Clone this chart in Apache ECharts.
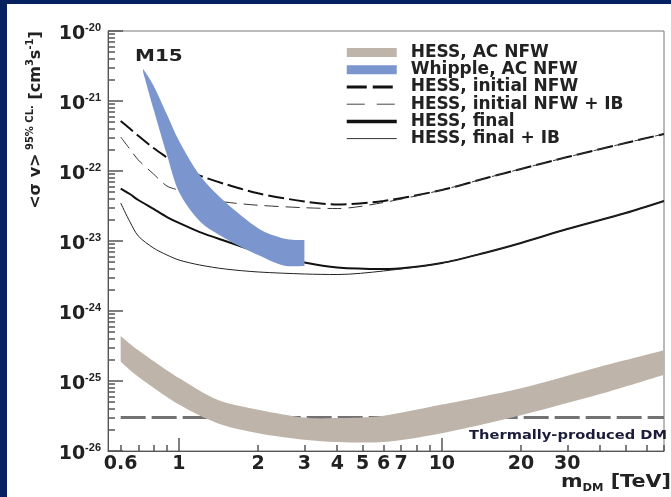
<!DOCTYPE html>
<html><head><meta charset="utf-8">
<script src="https://cdn.jsdelivr.net/npm/echarts@6/dist/echarts.min.js"></script>
<style>
html,body{margin:0;padding:0;background:#06215f;width:671px;height:497px;overflow:hidden}
#chart{position:absolute;left:7px;top:4px;width:664px;height:493px;background:#fff}
</style></head><body><div id="chart"></div>
<script>
// ---- axes ----
const xMinTeV = 0.537, xMaxTeV = 70;
const yMinExp = -26, yMaxExp = -20;
const xTickValues = [0.6, 1, 2, 3, 4, 5, 6, 7, 10, 20, 30];
const xTickLabels = ['0.6', '1', '2', '3', '4', '5', '6', '7', '10', '20', '30'];
const xMajorTicks = [1, 10];
const xMinorTicks = [0.6, 0.7, 0.8, 0.9, 2, 3, 4, 5, 6, 7, 8, 9, 20, 30, 40, 50, 60, 70];
const yDecades = [-26, -25, -24, -23, -22, -21, -20];
const yTickLabels = ['-26', '-25', '-24', '-23', '-22', '-21', '-20'];
const yMinorMultipliers = [2, 3, 4, 5, 6, 7, 8, 9];

// ---- data (m_DM in TeV, <sigma v> in cm^3 s^-1) ----
const hessAcMass  = [0.6, 0.7, 1, 1.4, 2, 3, 4, 6, 10, 20, 40, 70];
const hessAcUpper = [4.4e-25, 2.75e-25, 1.1e-25, 5.4e-26, 3.9e-26, 3.0e-26, 2.95e-26, 3.2e-26, 4.6e-26, 7.9e-26, 1.6e-25, 2.75e-25];
const hessAcLower = [1.9e-25, 1.15e-25, 4.6e-26, 2.5e-26, 1.8e-26, 1.45e-26, 1.35e-26, 1.35e-26, 1.8e-26, 3.25e-26, 6.5e-26, 1.23e-25];

const whippleMass  = [0.73, 0.8, 0.9, 1.0, 1.2, 1.5, 2, 2.5, 3];
const whippleUpper = [2.9e-21, 1.67e-21, 6.4e-22, 2.7e-22, 8.7e-23, 3.6e-23, 1.52e-23, 1.09e-23, 1.03e-23];
const whippleLower = [2.6e-21, 7.7e-22, 1.7e-22, 5.0e-23, 1.92e-23, 1.09e-23, 6.3e-24, 4.47e-24, 4.4e-24];

const lineMass   = [0.6, 0.65, 0.7, 0.8, 0.9, 1, 1.2, 1.5, 2, 3, 4, 6, 10, 15, 20, 30, 50, 70];
const initialNFW = [5.18e-22, 4.05e-22, 3.18e-22, 2.13e-22, 1.56e-22, 1.19e-22, 8.6e-23, 6.5e-23, 4.8e-23, 3.67e-23, 3.32e-23, 3.73e-23, 5.35e-23, 8.07e-23, 1.07e-22, 1.58e-22, 2.51e-22, 3.38e-22];
const initialIB  = [3.06e-22, 2.06e-22, 1.44e-22, 9.06e-23, 6.1e-23, 5.3e-23, 4.11e-23, 3.6e-23, 3.24e-23, 2.99e-23, 2.91e-23, 3.55e-23, 5.35e-23, 8.07e-23, 1.07e-22, 1.58e-22, 2.51e-22, 3.38e-22];
const finalNFW   = [5.62e-23, 4.69e-23, 3.85e-23, 2.87e-23, 2.2e-23, 1.81e-23, 1.34e-23, 1.0e-23, 6.97e-24, 4.93e-24, 4.18e-24, 3.98e-24, 4.85e-24, 6.97e-24, 9.36e-24, 1.48e-23, 2.51e-23, 3.73e-23];
const finalIB    = [3.49e-23, 1.89e-23, 1.18e-23, 7.94e-24, 6.31e-24, 5.35e-24, 4.54e-24, 3.98e-24, 3.61e-24, 3.38e-24, 3.32e-24, 3.73e-24, 4.85e-24, 6.97e-24, 9.36e-24, 1.48e-23, 2.51e-23, 3.73e-23];

const thermalMass = [0.6, 70];
const thermalSigma = [3e-26, 3e-26];

const names = ['HESS, AC NFW', 'Whipple, AC NFW', 'HESS, initial NFW', 'HESS, initial NFW + IB', 'HESS, final', 'HESS, final + IB'];

// ---- helpers ----
const L = Math.log10;
const pts = (xs, ys) => xs.map((x, i) => [L(x), L(ys[i])]);
const yMinor = [];
for (let d = yMinExp; d < yMaxExp; d++) yMinorMultipliers.forEach(m => yMinor.push(d + L(m)));

const FONT = 'DejaVu Sans';
const axisCol = '#555';
const txtCol = '#222';
const bandGrey = '#beb4aa', bandBlue = '#7b96cf';
const gridPos = {left: 101, top: 27, right: 7, bottom: 46};

// smooth path through screen points obtained from api.coord
function curveCmds(p) {
  let d = '';
  const n = p.length, t = 0.9;
  for (let i = 0; i < n - 1; i++) {
    const p0 = p[Math.max(i - 1, 0)], p1 = p[i], p2 = p[i + 1], p3 = p[Math.min(i + 2, n - 1)];
    const c1 = [p1[0] + (p2[0] - p0[0]) * t / 6, p1[1] + (p2[1] - p0[1]) * t / 6];
    const c2 = [p2[0] - (p3[0] - p1[0]) * t / 6, p2[1] - (p3[1] - p1[1]) * t / 6];
    d += ' C' + c1[0] + ',' + c1[1] + ' ' + c2[0] + ',' + c2[1] + ' ' + p2[0] + ',' + p2[1];
  }
  return d;
}

function bandSeries(name, xs, up, lo, color, z) {
  return {
    name: name, type: 'custom', z: z, color: color, clip: true,
    data: xs.map((x, i) => [L(x), L(up[i]), L(lo[i])]),
    encode: {x: 0, y: [1, 2]},
    renderItem: function (params, api) {
      if (params.dataIndex !== 0) return null;
      const top = xs.map((x, i) => api.coord([L(x), L(up[i])]));
      const bot = xs.map((x, i) => api.coord([L(x), L(lo[i])])).reverse();
      const d = 'M' + top[0][0] + ',' + top[0][1] + curveCmds(top) +
                ' L' + bot[0][0] + ',' + bot[0][1] + curveCmds(bot) + ' Z';
      return {type: 'path', shape: {pathData: d}, style: {fill: color}};
    }
  };
}

function tickAxisY(gridIndex, values, len) {
  return {
    gridIndex: gridIndex, type: 'value', min: yMinExp, max: yMaxExp, position: 'left', z: 10,
    axisLine: {show: false, onZero: false}, axisLabel: {show: false}, splitLine: {show: false},
    axisTick: {show: true, inside: true, length: len, customValues: values, lineStyle: {color: axisCol, width: 1.5}}
  };
}

const chart = echarts.init(document.getElementById('chart'), null, {renderer: 'canvas'});

chart.setOption({
  animation: false,
  grid: [
    Object.assign({show: true, borderColor: '#777', borderWidth: 1, backgroundColor: 'transparent'}, gridPos),
    Object.assign({show: false, z: 10}, gridPos)
  ],
  xAxis: [{
    type: 'value', min: L(xMinTeV), max: L(xMaxTeV), position: 'bottom', z: 10,
    axisLine: {show: true, onZero: false, lineStyle: {color: axisCol, width: 1}},
    axisTick: {show: true, inside: true, length: 13, customValues: xMajorTicks.map(L), lineStyle: {color: axisCol, width: 1.5}},
    axisLabel: {
      customValues: xTickValues.map(L), margin: 4, color: txtCol,
      fontFamily: FONT, fontWeight: 'bold', fontSize: 19,
      formatter: v => { const i = xTickValues.findIndex(t => Math.abs(L(t) - v) < 1e-6); return i >= 0 ? xTickLabels[i] : ''; }
    },
    splitLine: {show: false}
  }, {
    type: 'value', min: L(xMinTeV), max: L(xMaxTeV), position: 'bottom', z: 10,
    axisLine: {show: false, onZero: false}, axisLabel: {show: false}, splitLine: {show: false},
    axisTick: {show: true, inside: true, length: 6, customValues: xMinorTicks.map(L), lineStyle: {color: axisCol, width: 1.5}}
  }, {
    gridIndex: 1, type: 'value', min: L(xMinTeV), max: L(xMaxTeV), position: 'bottom',
    axisLine: {show: false, onZero: false}, axisLabel: {show: false}, axisTick: {show: false}, splitLine: {show: false}
  }],
  yAxis: [{
    type: 'value', min: yMinExp, max: yMaxExp, position: 'left', z: 10,
    axisLine: {show: true, onZero: false, lineStyle: {color: axisCol, width: 1}},
    axisTick: {show: true, inside: true, length: 15, customValues: yDecades, lineStyle: {color: axisCol, width: 1.5}},
    axisLabel: {
      customValues: yDecades, margin: 7, padding: [6, 0, 0, 0],
      formatter: v => { const i = yDecades.indexOf(Math.round(v)); return '{b|10}{s|' + yTickLabels[i] + '}'; },
      rich: {
        b: {fontFamily: FONT, fontWeight: 'bold', fontSize: 19, color: txtCol, lineHeight: 24},
        s: {fontFamily: 'Liberation Sans', fontWeight: 'bold', fontSize: 11, color: txtCol, verticalAlign: 'top', lineHeight: 11}
      }
    },
    splitLine: {show: false}
  },
  tickAxisY(0, yMinor, 7),
  tickAxisY(1, yDecades, 15),
  tickAxisY(1, yMinor, 7)
  ],
  legend: {
    orient: 'vertical', left: 338, top: 40, padding: 0, itemWidth: 50, itemHeight: 9, itemGap: 0,
    selectedMode: false,
    textStyle: {fontFamily: FONT, fontWeight: 'bold', fontSize: 17, color: txtCol, lineHeight: 17.2, padding: [0, 0, 0, 9]},
    data: [
      {name: names[0], icon: 'rect', itemStyle: {color: bandGrey, opacity: 1, borderWidth: 0}},
      {name: names[1], icon: 'rect', itemStyle: {color: bandBlue, opacity: 1, borderWidth: 0}},
      {name: names[2], itemStyle: {opacity: 0}, lineStyle: {width: 3, type: [20, 6], color: '#111'}},
      {name: names[3], itemStyle: {opacity: 0}, lineStyle: {width: 1, type: [18, 12], color: '#444'}},
      {name: names[4], itemStyle: {opacity: 0}, lineStyle: {width: 3.5, color: '#111'}},
      {name: names[5], itemStyle: {opacity: 0}, lineStyle: {width: 1, color: '#333'}}
    ]
  },
  series: [
    {name: 'thermal', type: 'line', z: 1, symbol: 'none', data: pts(thermalMass, thermalSigma),
     lineStyle: {color: '#727272', width: 3, type: [25, 6]}},
    bandSeries(names[0], hessAcMass, hessAcUpper, hessAcLower, bandGrey, 2),
    {name: names[2], type: 'line', z: 3, symbol: 'none', smooth: 0.3, data: pts(lineMass, initialNFW), color: '#111',
     lineStyle: {color: '#111', width: 2, type: [16, 5]}},
    {name: names[3], type: 'line', z: 3, symbol: 'none', smooth: 0.3, data: pts(lineMass, initialIB), color: '#444',
     lineStyle: {color: '#333', width: 1, type: [14, 7]}},
    {name: names[4], type: 'line', z: 3, symbol: 'none', smooth: 0.3, data: pts(lineMass, finalNFW), color: '#111',
     lineStyle: {color: '#111', width: 2}},
    {name: names[5], type: 'line', z: 3, symbol: 'none', smooth: 0.3, data: pts(lineMass, finalIB), color: '#333',
     lineStyle: {color: '#222', width: 1}},
    bandSeries(names[1], whippleMass, whippleUpper, whippleLower, bandBlue, 4)
  ],
  graphic: [
    {type: 'text', x: 128, y: 52.5, scaleX: 1.25, z: 10,
     style: {text: 'M15', fontFamily: FONT, fontWeight: 'bold', fontSize: 16, fill: txtCol, align: 'left', verticalAlign: 'middle'}},
    {type: 'text', x: 660, y: 432, scaleX: 1.22, z: 10,
     style: {text: 'Thermally-produced DM', fontFamily: FONT, fontWeight: 'bold', fontSize: 12, fill: '#1b1b3a', align: 'right', verticalAlign: 'middle'}},
    {type: 'text', x: 664, y: 478, scaleX: 1.15, z: 10,
     style: {text: '{m|m}{d|DM}{m| [TeV]}', align: 'right', verticalAlign: 'middle',
       rich: {m: {fontFamily: FONT, fontWeight: 'bold', fontSize: 18, fill: txtCol, lineHeight: 22},
              d: {fontFamily: FONT, fontWeight: 'bold', fontSize: 10, fill: txtCol, verticalAlign: 'bottom', lineHeight: 10}}}},
    {type: 'text', x: 29, y: 116, rotation: Math.PI / 2, z: 10,
     style: {text: '{m|<σ v>}{s| 95% CL.}{m| [cm}{s|3}{m|s}{s|-1}{m|]}', align: 'center', verticalAlign: 'middle',
       rich: {m: {fontFamily: FONT, fontWeight: 'bold', fontSize: 16, fill: txtCol, lineHeight: 22},
              s: {fontFamily: FONT, fontWeight: 'bold', fontSize: 10, fill: txtCol, verticalAlign: 'top', lineHeight: 10}}}}
  ]
});
</script></body></html>
